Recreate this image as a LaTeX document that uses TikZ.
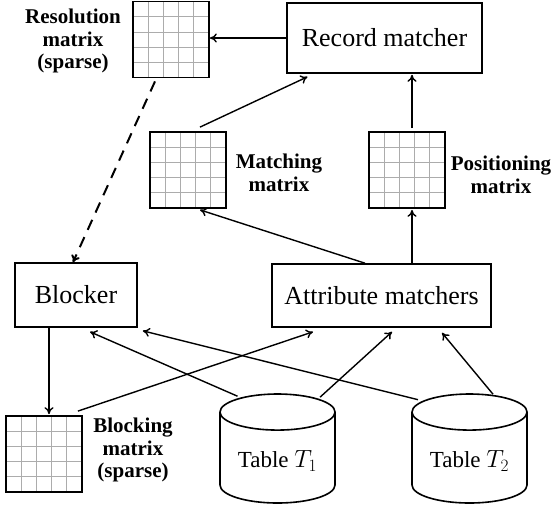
\documentclass[tikz,border=0pt]{standalone}
\usepackage{fontspec}
\setmainfont{Liberation Serif}
\usetikzlibrary{arrows.meta,shapes.geometric,calc}
\tikzset{
  box/.style={draw,line width=1.6pt,inner sep=0pt,font=\fontsize{26}{30}\selectfont},
  grd/.style={draw,line width=1.8pt,minimum size=76pt,inner sep=0pt,
    path picture={
      \foreach \k in {1,...,4}{
        \draw[gray!65,line width=0.8pt]
          ($(path picture bounding box.south west)!\k/5!(path picture bounding box.south east)$) -- ($(path picture bounding box.north west)!\k/5!(path picture bounding box.north east)$)
          ($(path picture bounding box.south west)!\k/5!(path picture bounding box.north west)$) -- ($(path picture bounding box.south east)!\k/5!(path picture bounding box.north east)$);
      }}},
  lbl/.style={align=center,font=\bfseries\fontsize{21}{22.5}\selectfont},
  db/.style={draw,line width=1.6pt,cylinder,shape border rotate=90,aspect=0.42,anchor=shape center,
    minimum width=115pt,minimum height=109pt,font=\fontsize{23}{26}\selectfont},
  arr/.style={line width=1.4pt,-{To[length=7pt,width=9pt]}},
}
\begin{document}
\begin{tikzpicture}[x=1pt,y=-1pt]
	\useasboundingbox (0,0) rectangle (553,507);
	% matrices and their labels
	\node[grd] (res) at (171,39.5) {};
	\node[lbl] (reslbl) at (73,41) {Resolution\\matrix\\(sparse)};
	\node[grd] (mat) at (188,170) {};
	\node[lbl] (matlbl) at (279,173) {Matching\\matrix};
	\node[grd] (pos) at (407,170) {};
	\node[lbl] (poslbl) at (501,175) {Positioning\\matrix};
	\node[grd] (bm) at (44,454) {};
	\node[lbl] (bmlbl) at (133,450) {Blocking\\matrix\\(sparse)};
	% boxes
	\node[box,minimum width=195pt,minimum height=70pt] (rec) at (384.5,38) {Record matcher};
	\node[box,minimum width=122pt,minimum height=64pt] (blk) at (76,295) {Blocker};
	\node[box,minimum width=219pt,minimum height=63pt] (attr) at (381.5,295.5) {Attribute matchers};
	% tables
	\node[db] (t1) at (277.5,448.5) {Table $T_1$};
	\node[db] (t2) at (469.5,448.5) {Table $T_2$};
	\path
	([xshift=5pt]pos.north) coordinate (P)
	([xshift=5pt]pos.south) coordinate (Q)
	;
	% connectors
	\draw[arr] (rec.west) -- (rec.west -| res.east);
	\draw[arr] ([xshift=12pt,yshift=4pt]mat.north) -- ([xshift=-77pt,yshift=-3pt]rec.south);
	\draw[arr] ([yshift=3pt]P) -- ([yshift=-1pt]P |- rec.south);
	\draw[arr] (Q |- attr.north) -- ([yshift=-1pt]Q);
	\draw[arr] ([xshift=-16.5pt]attr.north) -- ([xshift=12pt,yshift=-1pt]mat.south);
	\draw[arr,line width=2pt,dash pattern=on 11pt off 8pt] ([xshift=-16pt,yshift=-3pt]res.south) -- ([xshift=-3pt]blk.north);
	\draw[arr] ([xshift=-27pt]blk.south) -- ([xshift=5pt,yshift=1pt]bm.north);
	\draw[arr] ([xshift=-5pt,yshift=4pt]bm.north east) -- ([xshift=-68.5pt,yshift=-4pt]attr.south);
	\draw[arr] ([xshift=-40pt,yshift=-3pt]t1.top) -- ([xshift=14pt,yshift=-4pt]blk.south);
	\draw[arr] ([xshift=42.5pt,yshift=-4pt]t1.top) -- ([xshift=10.5pt,yshift=-4pt]attr.south);
	\draw[arr] ([xshift=-51.5pt,yshift=-6.5pt]t2.top) -- ([xshift=5pt,yshift=-3pt]blk.south east);
	\draw[arr] ([xshift=23.5pt,yshift=-1pt]t2.top) -- ([xshift=60.5pt,yshift=-5pt]attr.south);
\end{tikzpicture}
\end{document}
